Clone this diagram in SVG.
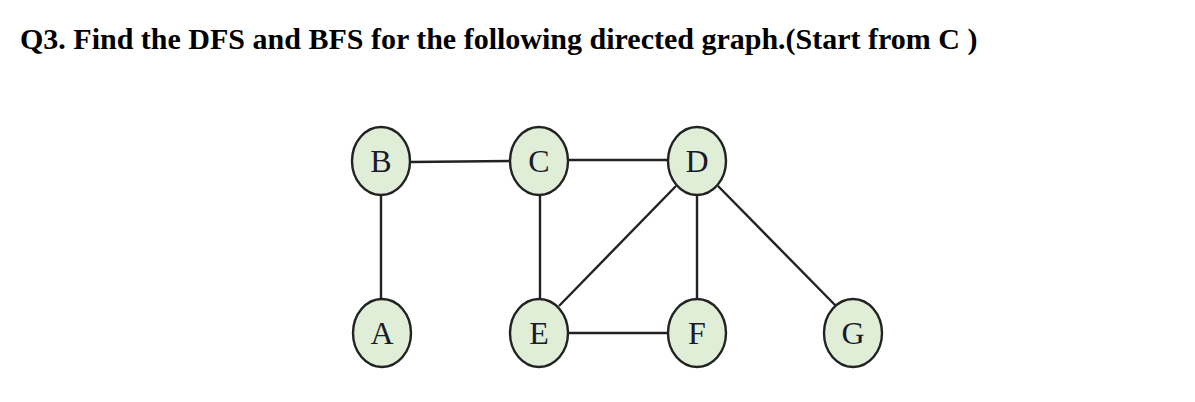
<svg xmlns="http://www.w3.org/2000/svg" width="1195" height="402" viewBox="0 0 1195 402">
<style>
.title{font-family:"Liberation Serif",serif;font-weight:bold;font-size:30px;fill:#000}
.node ellipse{fill:#e0eed8;stroke:#222;stroke-width:2.4}
.node text{font-family:"Liberation Serif",serif;font-size:32px;fill:#1a1a2a;text-anchor:middle}
.edges line{stroke:#222;stroke-width:2.4}
</style>
<rect width="1195" height="402" fill="#fff"/>
<text class="title" x="20" y="49">Q3. Find the DFS and BFS for the following directed graph.(Start from C )</text>
<g class="edges">
<line x1="410" y1="162" x2="510" y2="161"/>
<line x1="568" y1="160" x2="668" y2="160"/>
<line x1="381" y1="196" x2="381" y2="300"/>
<line x1="540" y1="195" x2="540" y2="299"/>
<line x1="697" y1="195" x2="697" y2="299"/>
<line x1="568" y1="333" x2="668" y2="333"/>
<line x1="676" y1="186" x2="559" y2="306"/>
<line x1="718" y1="186" x2="836" y2="306"/>
</g>
<g id="node-B" class="node"><ellipse cx="381" cy="161" rx="29" ry="34"/><text x="381" y="172">B</text></g>
<g id="node-C" class="node"><ellipse cx="539" cy="161" rx="29" ry="34"/><text x="539" y="172">C</text></g>
<g id="node-D" class="node"><ellipse cx="697" cy="161" rx="29" ry="34"/><text x="697" y="172">D</text></g>
<g id="node-A" class="node"><ellipse cx="382" cy="333" rx="29" ry="34"/><text x="382" y="344">A</text></g>
<g id="node-E" class="node"><ellipse cx="539" cy="333" rx="29" ry="34"/><text x="539" y="344">E</text></g>
<g id="node-F" class="node"><ellipse cx="697" cy="333" rx="29" ry="34"/><text x="697" y="344">F</text></g>
<g id="node-G" class="node"><ellipse cx="853" cy="333" rx="29" ry="34"/><text x="853" y="344">G</text></g>
</svg>
